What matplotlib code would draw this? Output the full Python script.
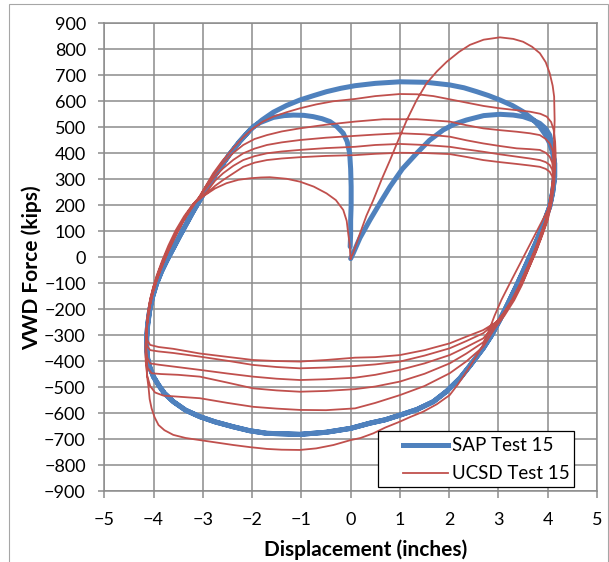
import matplotlib
matplotlib.use('Agg')
import matplotlib.pyplot as plt
from matplotlib.patches import Rectangle

plt.rcParams['font.family'] = ['Lato', 'DejaVu Sans']

# SAP model loop (displacement in inches, force in kips)
sap_first_push = [(0.0, -5), (0.05, 15), (0.19, 75), (0.39, 143), (0.6, 210), (0.8, 272),
                  (1.05, 340), (1.34, 400), (1.6, 450), (1.88, 490), (2.1, 512), (2.35, 528),
                  (2.7, 545), (3.03, 550), (3.3, 547), (3.5, 541), (3.7, 528), (3.84, 515),
                  (3.96, 495), (4.04, 470), (4.1, 420)]
sap_right_unload = [(4.14, 362), (4.14, 310), (4.1, 250), (4.04, 195), (3.95, 148), (3.85, 98),
                    (3.75, 52), (3.64, 5), (3.51, -50), (3.37, -108), (3.2, -175), (3.03, -240),
                    (2.86, -300), (2.69, -350), (2.45, -410), (2.22, -465), (1.95, -515),
                    (1.68, -555), (1.35, -585), (1.0, -607), (0.7, -625), (0.39, -638),
                    (0.0, -658), (-0.5, -673), (-1.03, -681), (-1.7, -677), (-2.05, -667),
                    (-2.38, -652), (-2.75, -633), (-3.06, -613), (-3.35, -588), (-3.6, -555),
                    (-3.78, -523), (-3.9, -491), (-4.0, -460), (-4.07, -427), (-4.12, -390),
                    (-4.14, -350), (-4.14, -310)]
sap_left_reload = [(-4.12, -260), (-4.08, -205), (-4.02, -152), (-3.94, -102), (-3.84, -55),
                   (-3.73, -12), (-3.6, 35), (-3.46, 85), (-3.33, 130), (-3.2, 175),
                   (-3.06, 220), (-2.93, 262), (-2.79, 305), (-2.62, 352), (-2.45, 398),
                   (-2.25, 446), (-2.04, 490)]
sap_upper = [(-1.8, 528), (-1.57, 558), (-1.3, 584), (-1.03, 605), (-0.75, 622), (-0.49, 637),
             (-0.2, 650), (0.09, 660), (0.5, 669), (1.0, 675), (1.54, 673), (2.01, 663),
             (2.3, 652), (2.56, 637), (2.8, 622), (3.03, 605), (3.28, 584), (3.5, 560),
             (3.7, 530), (3.84, 502), (3.95, 472), (4.04, 438), (4.1, 400)]
sap_last_return = [(-1.98, 502), (-1.84, 518), (-1.57, 538), (-1.35, 545), (-1.16, 547),
                   (-0.95, 546), (-0.76, 541), (-0.58, 533), (-0.42, 522), (-0.28, 503),
                   (-0.15, 477), (-0.07, 445), (-0.02, 400), (0.0, 340), (0.01, 272),
                   (0.01, 200), (0.0, 143), (0.0, 90), (-0.01, 41)]

# UCSD test record, cycle by cycle: upper branch + drop on the right,
# lower branch + rise on the left
ucsd_upper_0 = [(0.0, -5), (0.05, 16), (0.19, 92), (0.32, 160), (0.46, 220), (0.63, 300),
                (0.8, 374), (0.97, 452), (1.14, 528), (1.34, 605), (1.54, 669), (1.75, 715),
                (1.95, 752), (2.2, 790), (2.42, 817), (2.7, 837), (3.03, 846), (3.3, 840),
                (3.5, 829), (3.68, 810), (3.84, 785), (3.96, 750), (4.04, 708), (4.1, 660),
                (4.13, 618), (4.14, 528), (4.13, 460), (4.12, 400), (4.11, 320), (4.09, 260),
                (4.04, 195), (3.9, 145), (3.75, 90), (3.6, 35), (3.43, -27), (3.25, -93),
                (3.06, -164), (2.92, -225), (2.8, -285)]
ucsd_lower_1 = [(2.69, -337), (2.52, -390), (2.35, -440), (2.18, -488), (2.01, -530),
                (1.75, -565), (1.47, -594), (1.2, -615), (1.0, -632), (0.7, -655), (0.46, -677),
                (0.2, -695), (0.0, -703), (-0.35, -722), (-0.7, -735), (-1.03, -741),
                (-1.4, -740), (-1.7, -737), (-2.05, -730), (-2.38, -722), (-2.7, -713),
                (-3.06, -703), (-3.35, -695), (-3.6, -683), (-3.78, -665), (-3.9, -645),
                (-3.98, -615), (-4.04, -581), (-4.08, -545), (-4.1, -504), (-4.13, -460),
                (-4.14, -414), (-4.15, -370), (-4.15, -337), (-4.14, -280), (-4.12, -222),
                (-4.07, -160), (-4.0, -110), (-3.9, -55), (-3.78, 2), (-3.62, 66),
                (-3.46, 124), (-3.3, 175), (-3.15, 215)]
ucsd_upper_1 = [(-3.06, 233), (-2.93, 278), (-2.79, 323), (-2.6, 372), (-2.38, 420),
                (-2.18, 462), (-1.98, 496), (-1.78, 522), (-1.57, 541), (-1.3, 558),
                (-1.03, 573), (-0.7, 588), (-0.36, 600), (0.09, 609), (0.5, 620), (1.0, 628),
                (1.35, 627), (1.68, 620), (2.0, 608), (2.35, 595), (2.7, 582), (3.03, 573),
                (3.35, 566), (3.64, 560), (3.85, 552), (3.98, 541), (4.07, 520), (4.12, 490),
                (4.15, 445), (4.16, 400), (4.15, 340), (4.13, 280), (4.08, 210), (4.0, 143),
                (3.88, 80), (3.76, 20), (3.62, -40), (3.48, -105), (3.32, -165), (3.12, -225),
                (2.92, -275)]
ucsd_lower_2 = [(2.69, -344), (2.35, -400), (2.01, -446), (1.5, -495), (1.0, -530),
                (0.5, -560), (0.09, -581), (-0.5, -588), (-1.03, -587), (-1.5, -582),
                (-1.98, -575), (-2.5, -560), (-3.06, -542), (-3.5, -536), (-3.8, -532),
                (-3.97, -520), (-4.07, -495), (-4.13, -455), (-4.16, -400), (-4.16, -340),
                (-4.14, -275), (-4.1, -210), (-4.04, -150), (-3.96, -100), (-3.86, -48),
                (-3.74, 8), (-3.59, 70), (-3.44, 125), (-3.28, 174), (-3.13, 215)]
ucsd_upper_2 = [(-2.99, 259), (-2.8, 312), (-2.59, 362), (-2.38, 402), (-2.18, 432),
                (-1.95, 455), (-1.7, 470), (-1.4, 484), (-1.03, 496), (-0.5, 510), (0.09, 522),
                (0.66, 531), (1.34, 531), (2.01, 522), (2.35, 508), (2.69, 496), (3.03, 489),
                (3.37, 483), (3.64, 477), (3.84, 470), (3.96, 455), (4.04, 438), (4.1, 410),
                (4.12, 374), (4.13, 330), (4.1, 280), (4.04, 210), (3.96, 143), (3.84, 80),
                (3.72, 20), (3.58, -40), (3.43, -105), (3.27, -165), (3.08, -222), (2.9, -268)]
ucsd_lower_3 = [(2.69, -327), (2.35, -370), (2.01, -408), (1.5, -448), (1.0, -478),
                (0.5, -497), (0.09, -507), (-0.5, -514), (-1.03, -517), (-1.5, -512),
                (-1.98, -504), (-2.5, -482), (-3.06, -459), (-3.5, -452), (-3.85, -449),
                (-4.04, -446), (-4.12, -425), (-4.16, -385), (-4.16, -330), (-4.14, -270),
                (-4.1, -205), (-4.03, -145), (-3.94, -88), (-3.82, -30), (-3.68, 33),
                (-3.52, 95), (-3.36, 152), (-3.18, 205)]
ucsd_upper_3 = [(-2.96, 259), (-2.78, 305), (-2.59, 342), (-2.38, 375), (-2.18, 400),
                (-1.95, 418), (-1.7, 432), (-1.4, 442), (-1.03, 451), (-0.5, 460), (0.09, 467),
                (0.5, 472), (1.0, 477), (1.5, 473), (2.01, 464), (2.35, 450), (2.69, 438),
                (3.03, 428), (3.37, 419), (3.64, 416), (3.84, 413), (3.96, 402), (4.04, 387),
                (4.09, 365), (4.11, 340), (4.1, 290), (4.05, 220), (3.97, 150), (3.86, 85),
                (3.74, 25), (3.6, -35), (3.45, -100), (3.29, -160), (3.1, -218), (2.92, -262)]
ucsd_lower_4 = [(2.69, -312), (2.35, -345), (2.01, -376), (1.5, -408), (1.0, -433),
                (0.5, -452), (0.09, -463), (-0.5, -469), (-1.03, -472), (-1.5, -467),
                (-1.98, -459), (-2.5, -447), (-3.06, -433), (-3.6, -420), (-3.9, -413),
                (-4.07, -408), (-4.13, -385), (-4.15, -350), (-4.15, -305), (-4.12, -245),
                (-4.07, -185), (-4.0, -128), (-3.91, -74), (-3.8, -18), (-3.66, 44),
                (-3.5, 104), (-3.34, 158), (-3.17, 210)]
ucsd_upper_4 = [(-2.92, 252), (-2.75, 295), (-2.59, 323), (-2.38, 352), (-2.18, 374),
                (-1.95, 389), (-1.7, 400), (-1.4, 407), (-1.03, 413), (-0.5, 420), (0.09, 425),
                (0.5, 432), (1.0, 436), (1.5, 432), (2.01, 425), (2.35, 415), (2.69, 406),
                (3.03, 396), (3.37, 387), (3.64, 380), (3.84, 374), (3.96, 366), (4.04, 355),
                (4.09, 338), (4.11, 318), (4.1, 280), (4.05, 215), (3.98, 150), (3.87, 90),
                (3.75, 30), (3.62, -30), (3.47, -95), (3.31, -155), (3.12, -212), (2.93, -255)]
ucsd_lower_5 = [(2.69, -292), (2.35, -322), (2.01, -350), (1.5, -378), (1.0, -401),
                (0.5, -412), (0.09, -418), (-0.5, -424), (-1.03, -427), (-1.5, -422),
                (-1.98, -414), (-2.5, -398), (-3.06, -382), (-3.6, -368), (-3.9, -362),
                (-4.07, -357), (-4.14, -338), (-4.15, -300), (-4.13, -245), (-4.08, -187),
                (-4.01, -130), (-3.92, -76), (-3.81, -20), (-3.68, 40), (-3.52, 102),
                (-3.35, 157), (-3.18, 208)]
ucsd_upper_5 = [(-2.92, 246), (-2.75, 275), (-2.59, 297), (-2.38, 323), (-2.18, 348),
                (-1.95, 364), (-1.7, 374), (-1.4, 380), (-1.03, 385), (-0.5, 390), (0.09, 393),
                (0.5, 398), (1.0, 402), (1.5, 401), (2.01, 397), (2.35, 386), (2.69, 374),
                (3.03, 366), (3.37, 359), (3.64, 353), (3.84, 348), (3.96, 340), (4.04, 329),
                (4.09, 312), (4.11, 297), (4.1, 265), (4.06, 205), (3.99, 145), (3.89, 88),
                (3.77, 28), (3.64, -32), (3.5, -92), (3.34, -152), (3.15, -208), (2.95, -250)]
ucsd_lower_6 = [(2.69, -280), (2.35, -305), (2.01, -331), (1.5, -357), (1.0, -376),
                (0.5, -384), (0.09, -386), (-0.5, -395), (-1.03, -401), (-1.5, -399),
                (-1.98, -395), (-2.5, -383), (-3.06, -370), (-3.6, -352), (-3.9, -345),
                (-4.07, -337), (-4.13, -318), (-4.14, -285), (-4.13, -240), (-4.09, -182),
                (-4.02, -125), (-3.94, -72), (-3.83, -15), (-3.7, 45), (-3.55, 104),
                (-3.38, 158), (-3.2, 205)]
ucsd_upper_6 = [(-2.99, 235), (-2.75, 265), (-2.52, 285), (-2.28, 298), (-2.04, 304),
                (-1.82, 307), (-1.64, 308), (-1.3, 302), (-1.03, 291), (-0.75, 272),
                (-0.49, 246), (-0.3, 220), (-0.15, 182), (-0.08, 140), (-0.05, 92),
                (-0.02, 50), (-0.01, 15), (0.0, -5)]

x_ticks = list(range(-5, 6))
y_ticks = list(range(-900, 901, 100))

sap_path = (sap_first_push + sap_right_unload + sap_left_reload + sap_upper
            + sap_right_unload + sap_left_reload + sap_last_return)
ucsd_path = (ucsd_upper_0 + ucsd_lower_1 + ucsd_upper_1 + ucsd_lower_2 + ucsd_upper_2
             + ucsd_lower_3 + ucsd_upper_3 + ucsd_lower_4 + ucsd_upper_4 + ucsd_lower_5
             + ucsd_upper_5 + ucsd_lower_6 + ucsd_upper_6)

grid_gray = '#8c8c8c'
sap_blue = '#4F81BD'
ucsd_red = '#C0504D'

fig = plt.figure(figsize=(6.09, 5.62), dpi=100)
ax = fig.add_axes([104.3 / 609, 1 - 491.3 / 562, 492.7 / 609, 468 / 562])

ax.plot([p[0] for p in sap_path], [p[1] for p in sap_path], color=sap_blue, lw=3.6,
        solid_joinstyle='round', solid_capstyle='round', zorder=3)
ax.plot([p[0] for p in ucsd_path], [p[1] for p in ucsd_path], color=ucsd_red, lw=1.3,
        solid_joinstyle='round', zorder=4)

ax.set_xlim(-5, 5)
ax.set_ylim(-900, 900)
ax.set_xticks(x_ticks)
ax.set_yticks(y_ticks)
ax.grid(True, color=grid_gray, lw=1.1, zorder=0)
ax.set_axisbelow(True)
for s in ax.spines.values():
    s.set_color(grid_gray)
    s.set_linewidth(1.1)
ax.tick_params(axis='y', length=4.3, width=1.1, color=grid_gray, pad=9, labelsize=13)
ax.tick_params(axis='x', length=5, width=1.1, color=grid_gray, pad=10, labelsize=13)

ax.set_xlabel('Displacement (inches)', fontsize=15, fontweight='bold')
ax.xaxis.label.set_va('center')
ax.xaxis.set_label_coords(0.530, -0.125)
ax.set_ylabel('VWD Force (kips)', fontsize=15, fontweight='bold')
ax.yaxis.label.set_va('center')
ax.yaxis.set_label_coords(-0.147, 0.477)

# legend box drawn in axes fractions
ax.add_patch(Rectangle((0.5561, 0.0098), 0.3972, 0.1197, transform=ax.transAxes,
                       facecolor='white', edgecolor='black', lw=0.9, zorder=5))
ax.plot([0.6063, 0.6976], [0.0989, 0.0989], transform=ax.transAxes, color=sap_blue,
        lw=3.6, zorder=6)
ax.plot([0.6063, 0.6976], [0.0391, 0.0391], transform=ax.transAxes, color=ucsd_red,
        lw=1.3, zorder=6)
ax.text(0.7051, 0.0989, 'SAP Test 15', transform=ax.transAxes, va='center', fontsize=13.5,
        zorder=6)
ax.text(0.7051, 0.0391, 'UCSD Test 15', transform=ax.transAxes, va='center', fontsize=13.5,
        zorder=6)

# chart area outline
fig.add_artist(Rectangle((8.5 / 609, -0.05), 599 / 609, 1.05 - 4.5 / 562,
                         transform=fig.transFigure, fill=False, edgecolor='#a6a6a6', lw=0.8))

fig.savefig('out.png', dpi=100)
